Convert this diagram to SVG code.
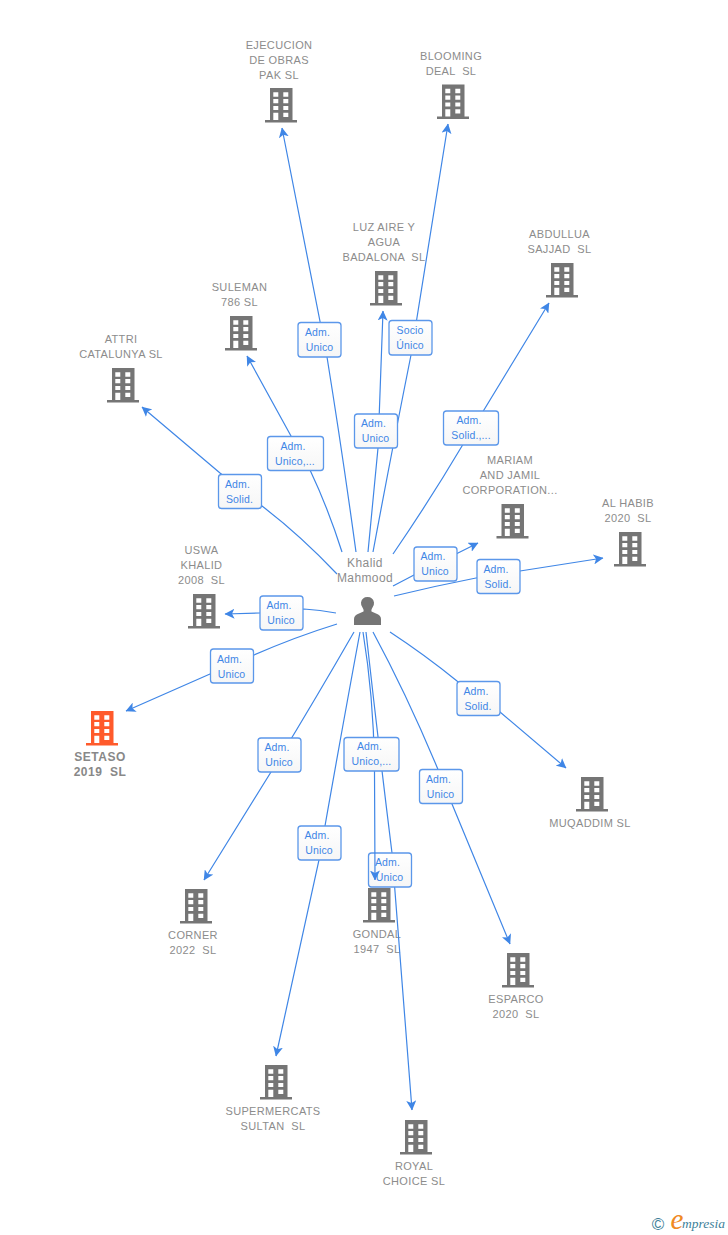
<svg xmlns="http://www.w3.org/2000/svg" width="728" height="1235" viewBox="0 0 728 1235">
<style>
text{font-family:"Liberation Sans",Arial,sans-serif;white-space:pre}
.n{font-size:11px;letter-spacing:.35px;fill:#8c8c8c;text-anchor:middle}
.s{font-size:12px;font-weight:bold;letter-spacing:.5px;fill:#888;text-anchor:middle}
.p{font-size:12px;letter-spacing:.4px;fill:#8c8c8c;text-anchor:middle}
.e{fill:none;stroke:#3f86e6;stroke-width:1.2;marker-end:url(#a)}
.b{fill:url(#g);stroke:#5b97ea;stroke-width:1.3}
.l{font-size:10.5px;letter-spacing:.15px;fill:#3f86e6;text-anchor:middle}
.f{font-family:"Liberation Serif",serif;font-style:italic}
</style>
<defs>
<linearGradient id="g" x1="0" y1="0" x2="0" y2="1"><stop offset="0" stop-color="#fff"/><stop offset="1" stop-color="#f6f6f6"/></linearGradient>
<marker id="a" viewBox="0 0 10 10" refX="9.500" refY="5" markerWidth="10" markerHeight="10" markerUnits="userSpaceOnUse" orient="auto"><path d="M0 0L10 5L0 10L2.500 5Z" fill="#3f86e6"/></marker>
<path id="h" fill-rule="evenodd" d="M-11 0H11.500V32H16V34.500H-16V32H-11ZM-7.700 4.300V8.700H-2.700V4.300ZM2.300 4.300V8.700H7.300V4.300ZM-7.700 11V15.300H-2.700V11ZM2.300 11V15.300H7.300V11ZM-7.700 18V22H-2.700V18ZM2.300 18V22H7.300V18ZM-7.700 24.700V32H-2.700V24.700ZM2.300 24.700V29H7.300V24.700Z"/>
</defs>
<g id="n-ejecucion"><use href="#h" x="281" y="88" fill="#757575"/><text class="n"><tspan x="279" y="49">EJECUCION</tspan><tspan x="279" y="64">DE OBRAS</tspan><tspan x="279" y="79">PAK SL</tspan></text></g>
<g id="n-blooming"><use href="#h" x="453" y="84.500" fill="#757575"/><text class="n"><tspan x="451" y="60">BLOOMING</tspan><tspan x="451" y="75">DEAL  SL</tspan></text></g>
<g id="n-luz"><use href="#h" x="386" y="271" fill="#757575"/><text class="n"><tspan x="384" y="231">LUZ AIRE Y</tspan><tspan x="384" y="246">AGUA</tspan><tspan x="384" y="261">BADALONA  SL</tspan></text></g>
<g id="n-abdullua"><use href="#h" x="562" y="263" fill="#757575"/><text class="n"><tspan x="559.500" y="238">ABDULLUA</tspan><tspan x="559.500" y="253">SAJJAD  SL</tspan></text></g>
<g id="n-suleman"><use href="#h" x="241" y="316" fill="#757575"/><text class="n"><tspan x="239.500" y="291">SULEMAN</tspan><tspan x="239.500" y="306">786 SL</tspan></text></g>
<g id="n-attri"><use href="#h" x="123" y="368" fill="#757575"/><text class="n"><tspan x="121" y="343">ATTRI</tspan><tspan x="121" y="358">CATALUNYA SL</tspan></text></g>
<g id="n-mariam"><use href="#h" x="512.500" y="504" fill="#757575"/><text class="n"><tspan x="510" y="464">MARIAM</tspan><tspan x="510" y="479">AND JAMIL</tspan><tspan x="510" y="494">CORPORATION...</tspan></text></g>
<g id="n-alhabib"><use href="#h" x="630" y="532" fill="#757575"/><text class="n"><tspan x="628" y="507">AL HABIB</tspan><tspan x="628" y="522">2020  SL</tspan></text></g>
<g id="n-uswa"><use href="#h" x="204" y="594" fill="#757575"/><text class="n"><tspan x="201.500" y="554">USWA</tspan><tspan x="201.500" y="569">KHALID</tspan><tspan x="201.500" y="584">2008  SL</tspan></text></g>
<g id="n-setaso"><use href="#h" x="102" y="711" fill="#ff5a2b"/><text class="s"><tspan x="100" y="761">SETASO</tspan><tspan x="100" y="776">2019  SL</tspan></text></g>
<g id="n-corner"><use href="#h" x="196" y="889" fill="#757575"/><text class="n"><tspan x="193" y="939">CORNER</tspan><tspan x="193" y="954">2022  SL</tspan></text></g>
<g id="n-gondal"><use href="#h" x="379" y="888" fill="#757575"/><text class="n"><tspan x="377" y="938">GONDAL</tspan><tspan x="377" y="953">1947  SL</tspan></text></g>
<g id="n-esparco"><use href="#h" x="518" y="953" fill="#757575"/><text class="n"><tspan x="516" y="1003">ESPARCO</tspan><tspan x="516" y="1018">2020  SL</tspan></text></g>
<g id="n-muqaddim"><use href="#h" x="592" y="777" fill="#757575"/><text class="n"><tspan x="590" y="827">MUQADDIM SL</tspan></text></g>
<g id="n-supermercats"><use href="#h" x="276" y="1065" fill="#757575"/><text class="n"><tspan x="273" y="1115">SUPERMERCATS</tspan><tspan x="273" y="1130">SULTAN  SL</tspan></text></g>
<g id="n-royal"><use href="#h" x="416" y="1120" fill="#757575"/><text class="n"><tspan x="414" y="1170">ROYAL</tspan><tspan x="414" y="1185">CHOICE SL</tspan></text></g>
<g id="n-khalid"><text class="p"><tspan x="365" y="567">Khalid</tspan><tspan x="365" y="582">Mahmood</tspan></text><path fill="#757575" d="M354 625V619Q354 615 359 613.500L363.500 611.500Q364 610 363 608.500Q360.500 605 361 602.500Q362 597 367.500 597Q373 597 374 602.500Q374.500 605 372 608.500Q371 610 371.500 611.500L376 613.500Q381 615 381 619V625Z"/></g>
<g id="connectors">
<g><path class="e" d="M356 552Q342 450 327 357L282 128"/><rect class="b" x="298" y="322.500" width="43" height="34.500" rx="3"/><text class="l"><tspan x="317.500" y="336">Adm.</tspan><tspan x="319.500" y="351">Unico</tspan></text></g>
<g><path class="e" d="M373 552Q392 450 411 355L448 124"/><rect class="b" x="389" y="320.500" width="43" height="34.500" rx="3"/><text class="l"><tspan x="410" y="334">Socio</tspan><tspan x="410" y="349">Único</tspan></text></g>
<g><path class="e" d="M368 552Q373 500 378 448L383 311"/><rect class="b" x="354.500" y="414" width="43" height="34" rx="3"/><text class="l"><tspan x="373.500" y="427">Adm.</tspan><tspan x="375.500" y="442">Unico</tspan></text></g>
<g><path class="e" d="M393 554Q430 500 462 446L549 303"/><rect class="b" x="443.500" y="411" width="55" height="34" rx="3"/><text class="l"><tspan x="469" y="424">Adm.</tspan><tspan x="471" y="439">Solid.,...</tspan></text></g>
<g><path class="e" d="M342 552Q328 508 310 470L291 436L247 356"/><rect class="b" x="267.500" y="436.500" width="56" height="34" rx="3"/><text class="l"><tspan x="293" y="450">Adm.</tspan><tspan x="295" y="465">Unico,...</tspan></text></g>
<g><path class="e" d="M337 574Q300 535 262 506L220 473L142 407"/><rect class="b" x="218.500" y="474.500" width="43" height="34" rx="3"/><text class="l"><tspan x="237.500" y="488">Adm.</tspan><tspan x="239.500" y="503">Solid.</tspan></text></g>
<g><path class="e" d="M393 586L414 575L458 553L478 543"/><rect class="b" x="414" y="547" width="43" height="34" rx="3"/><text class="l"><tspan x="433" y="560">Adm.</tspan><tspan x="435" y="575">Unico</tspan></text></g>
<g><path class="e" d="M394 596Q435 586 476 578L520 571L603 558"/><rect class="b" x="477" y="559.500" width="43" height="34" rx="3"/><text class="l"><tspan x="496" y="573">Adm.</tspan><tspan x="498" y="588">Solid.</tspan></text></g>
<g><path class="e" d="M336 613Q320 610 304 609L260 613L225 614"/><rect class="b" x="260" y="596" width="43" height="34" rx="3"/><text class="l"><tspan x="279" y="609">Adm.</tspan><tspan x="281" y="624">Unico</tspan></text></g>
<g><path class="e" d="M337 624Q295 637 254 655L210 674L126 711"/><rect class="b" x="210.500" y="649" width="43" height="34" rx="3"/><text class="l"><tspan x="229.500" y="663">Adm.</tspan><tspan x="231.500" y="678">Unico</tspan></text></g>
<g><path class="e" d="M354 632Q315 700 271 772L204 880"/><rect class="b" x="258" y="738" width="43" height="34" rx="3"/><text class="l"><tspan x="277" y="751">Adm.</tspan><tspan x="279" y="766">Unico</tspan></text></g>
<g><path class="e" d="M360 632Q340 740 319 860L276 1056"/><rect class="b" x="298" y="826" width="43" height="34" rx="3"/><text class="l"><tspan x="317" y="839">Adm.</tspan><tspan x="319" y="854">Unico</tspan></text></g>
<g><path class="e" d="M366 632Q378 740 392 853L412 1110"/><rect class="b" x="368.500" y="853" width="43" height="34" rx="3"/><text class="l"><tspan x="387.500" y="866">Adm.</tspan><tspan x="389.500" y="881">Unico</tspan></text></g>
<g><path class="e" d="M363 632Q374 700 374.500 771L375 880"/><rect class="b" x="344" y="737.500" width="55" height="33.500" rx="3"/><text class="l"><tspan x="369.500" y="750">Adm.</tspan><tspan x="371.500" y="765">Unico,...</tspan></text></g>
<g><path class="e" d="M373 632Q415 710 452 804L510 944"/><rect class="b" x="419.500" y="769.500" width="43" height="34" rx="3"/><text class="l"><tspan x="438.500" y="783">Adm.</tspan><tspan x="440.500" y="798">Unico</tspan></text></g>
<g><path class="e" d="M390 632Q425 655 457 681L500 712L566 768"/><rect class="b" x="457" y="681.500" width="43" height="34" rx="3"/><text class="l"><tspan x="476" y="695">Adm.</tspan><tspan x="478" y="710">Solid.</tspan></text></g>
</g>
<g id="logo"><text x="658" y="1230" font-size="17" fill="#3e7f99" text-anchor="middle">©</text><text class="f" x="670.500" y="1229" font-size="29" fill="#f08a24">e</text><text class="f" x="682" y="1228" font-size="13.500" fill="#3e7f99">mpresia</text></g>
</svg>
